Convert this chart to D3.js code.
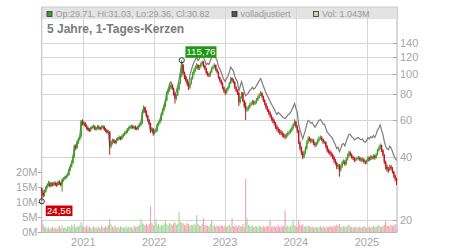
<!DOCTYPE html>
<html><head><meta charset="utf-8">
<script src="https://cdn.jsdelivr.net/npm/d3@7"></script>
<style>body{margin:0;background:#fff;} svg{display:block;font-family:"Liberation Sans",Arial,sans-serif;}</style>
</head><body><svg id="c" width="450" height="250"></svg>
<script>
// ---- data ----
const startDate = "2020-06-01";   // first weekly candle
const firstOpen = 28.4;
const closes = [
27.0,26.2,27.3,28.6,29.2,30.0,29.1,29.8,29.4,30.0,
29.6,29.4,30.3,30.0,29.5,31.0,31.5,31.8,32.4,32.8,
34.7,36.0,37.5,40.0,45.0,44.2,47.0,48.5,50.0,59.0,
57.5,58.0,56.5,55.0,54.2,53.5,54.8,55.5,56.0,54.5,
54.5,55.8,55.0,54.6,55.5,55.9,54.2,53.5,52.5,52.8,
45.0,46.5,48.0,47.5,47.0,48.2,49.0,49.5,48.8,50.0,
51.0,52.0,52.5,54.0,55.0,55.5,56.0,55.2,55.5,54.8,
54.5,56.0,57.0,58.0,65.5,69.0,66.0,63.0,60.0,58.0,
53.5,54.5,52.0,53.0,53.5,57.0,58.5,60.0,64.0,67.0,
70.0,74.6,81.0,83.5,86.0,88.0,85.0,80.0,76.0,79.0,
84.0,90.0,98.0,110.0,101.0,96.0,93.0,89.0,86.0,90.0,
95.0,100.0,104.0,107.0,110.0,106.0,108.0,111.0,114.0,109.0,
106.0,101.0,99.0,98.0,102.0,106.0,108.0,110.0,105.0,102.0,
96.0,93.0,90.0,86.0,83.0,81.0,84.0,86.0,90.0,95.0,
93.0,91.0,86.0,83.0,81.0,73.0,77.0,81.0,74.0,70.0,
67.0,68.0,69.0,71.0,72.0,73.5,72.0,73.0,75.0,77.0,
79.0,81.0,78.0,74.6,72.0,69.0,67.0,65.0,63.0,61.0,
59.5,58.0,56.0,54.5,53.5,52.7,52.0,51.0,50.5,50.0,
50.8,52.0,52.5,53.5,55.0,57.0,59.0,56.0,53.5,47.0,
44.0,42.0,40.0,42.0,44.0,47.0,49.0,48.5,47.5,48.0,
46.5,45.5,46.5,48.0,49.0,49.5,48.5,47.0,47.0,45.0,
43.0,42.5,41.5,41.0,40.0,38.6,37.5,35.9,36.5,34.7,
36.0,37.6,38.0,37.0,39.0,40.5,42.0,41.0,40.0,39.5,
38.6,39.0,39.5,39.6,39.0,38.6,39.0,38.0,37.6,38.2,
39.6,39.0,40.0,39.5,40.5,39.6,41.0,43.0,44.0,45.5,
43.0,41.0,38.0,36.0,35.0,34.7,36.0,35.3,34.0,32.6,
31.5,30.82];
const highs = [
28.6,27.8,27.9,29.0,29.9,30.8,30.5,30.4,30.3,30.6,
30.5,30.2,30.9,30.9,30.4,31.6,32.0,32.5,33.0,33.5,
35.2,36.8,38.4,40.8,45.8,46.0,47.8,49.5,51.0,60.0,
60.5,59.5,58.8,57.2,56.0,55.0,55.8,56.6,57.2,56.6,
55.6,56.8,56.6,55.8,56.6,57.0,56.4,55.0,54.2,53.8,
53.0,47.5,49.0,48.8,48.4,49.2,50.0,50.6,50.2,51.0,
52.0,53.0,53.6,55.0,56.0,56.8,57.2,56.8,56.6,56.4,
55.8,57.0,58.2,59.5,66.5,70.5,69.5,66.8,63.6,60.8,
58.4,55.6,55.0,54.0,54.8,58.0,59.6,61.4,65.0,68.4,
71.6,76.0,82.5,85.5,88.0,90.0,89.0,85.6,80.5,80.2,
85.5,91.5,100.0,115.76,111.0,102.0,97.5,94.0,90.0,91.5,
96.5,102.0,106.0,109.5,112.5,111.0,110.0,113.0,115.5,114.5,
110.0,107.0,102.5,100.5,103.5,107.5,110.0,112.0,110.5,106.0,
102.5,97.0,94.0,91.0,87.0,84.0,85.5,87.5,91.5,96.5,
96.0,94.5,92.0,87.0,84.0,82.0,78.0,82.0,81.5,75.0,
73.0,69.5,70.5,72.5,73.5,75.0,74.5,74.5,76.5,78.5,
80.5,82.5,81.5,78.5,75.5,72.5,70.0,67.8,66.0,63.8,
62.0,60.5,58.8,57.0,55.5,54.5,53.8,53.0,52.0,51.6,
51.8,53.0,53.6,54.6,56.2,58.2,60.5,59.5,56.8,54.0,
47.8,45.0,42.8,43.0,45.0,48.0,50.2,50.0,49.2,49.0,
48.8,47.2,47.4,49.0,50.2,50.6,50.2,49.0,48.0,47.6,
45.6,43.8,43.2,42.4,41.6,40.6,39.2,38.0,37.2,37.0,
36.8,38.4,38.9,38.6,39.8,41.4,42.9,42.6,41.6,40.6,
40.0,39.8,40.2,40.4,40.2,39.6,39.8,39.4,38.6,39.0,
40.4,40.2,40.8,40.6,41.2,41.0,41.8,43.8,45.0,46.4,
45.8,43.6,41.4,38.4,36.8,35.8,36.8,36.6,35.8,34.4,
33.0,31.8];
const lows = [
24.56,25.6,25.9,27.0,28.2,28.9,28.6,28.8,28.9,29.0,
29.1,28.8,29.1,29.4,28.9,27.3,30.5,31.0,31.4,32.0,
32.5,34.2,35.6,37.0,39.6,43.0,43.8,46.2,47.8,49.5,
56.5,56.4,55.6,54.0,53.2,52.6,52.8,54.0,54.8,53.6,
53.4,54.0,54.0,53.6,54.0,54.8,53.4,52.6,51.6,51.5,
41.0,44.0,45.8,46.5,46.0,46.4,47.6,48.2,48.0,48.2,
49.4,50.4,51.2,52.0,53.2,54.2,54.6,54.2,54.2,53.8,
53.6,53.8,55.2,56.2,57.5,64.5,65.0,62.0,59.0,56.8,
52.0,52.6,50.5,51.0,52.0,52.8,56.0,57.6,59.2,63.0,
66.0,69.0,73.6,79.5,82.0,84.5,83.5,78.5,72.0,74.5,
78.0,83.0,89.0,96.0,99.0,94.0,91.0,87.0,83.5,84.5,
88.5,93.5,98.0,102.0,105.0,104.0,104.0,106.0,109.0,107.0,
104.0,99.0,97.0,96.0,96.5,100.5,104.5,106.0,103.0,100.0,
94.5,91.0,88.0,84.5,81.0,79.0,80.0,82.5,85.0,89.0,
91.0,89.5,84.5,81.5,79.0,70.0,72.0,76.0,73.0,68.5,
60.0,65.5,66.5,68.0,70.0,71.0,70.5,71.0,72.0,74.0,
76.0,78.0,76.5,73.0,70.5,67.5,65.5,63.5,61.5,59.5,
58.0,56.5,54.5,53.0,52.0,51.2,50.8,49.8,49.2,48.6,
49.0,50.0,51.0,51.8,52.8,54.2,56.2,55.0,52.0,46.0,
43.0,40.8,39.0,39.4,41.2,43.2,46.2,47.5,46.5,46.6,
45.6,44.5,44.8,45.8,47.2,48.2,47.6,46.2,46.0,44.0,
42.0,41.5,40.6,40.0,39.0,37.6,36.6,35.0,35.0,32.2,
34.0,35.4,37.0,36.2,36.6,38.4,39.8,40.2,39.2,38.6,
37.8,38.0,38.4,38.8,38.2,37.8,38.0,37.2,36.8,37.0,
37.8,38.2,38.6,38.8,39.0,38.8,39.2,40.6,42.4,43.4,
42.2,40.2,37.0,34.8,34.0,33.6,34.2,34.6,33.4,31.8,
30.6,29.36];
const volumes = [ // millions
4.0,2.5,1.8,1.5,1.2,1.6,1.0,1.3,1.8,1.1,
1.4,1.0,1.5,2.0,1.2,2.2,1.3,1.6,1.2,1.8,
2.0,1.5,2.4,1.8,2.6,1.5,2.0,1.7,2.2,3.3,
2.0,1.6,1.4,2.2,1.3,1.8,1.5,1.2,2.0,1.4,
1.6,1.3,1.8,1.2,2.1,1.5,1.4,1.9,1.6,2.4,
4.3,2.5,1.8,1.6,2.2,1.4,1.7,1.3,1.9,1.5,
1.6,1.4,2.0,1.3,1.8,1.5,1.7,1.2,2.2,1.6,
1.8,2.0,2.4,4.2,3.0,2.5,2.2,2.8,2.0,2.6,
8.6,3.0,2.4,2.0,4.3,2.2,2.6,1.8,2.4,2.2,
2.8,4.0,2.5,2.2,3.0,2.6,2.2,2.8,3.2,2.4,
2.6,6.6,3.4,3.0,2.8,2.4,2.2,3.0,2.6,2.0,
2.4,2.2,2.8,2.4,5.6,2.6,2.2,2.0,2.8,4.6,
2.4,2.2,2.0,1.8,2.6,4.0,2.0,2.4,1.8,2.2,
2.0,1.8,2.4,2.0,1.6,2.2,1.8,2.0,2.4,1.8,
4.6,2.0,1.8,2.4,1.6,2.2,2.0,1.8,2.6,1.6,
17.6,4.6,2.4,2.0,1.8,2.2,1.6,2.0,1.8,1.6,
2.2,1.8,1.6,2.0,1.8,1.6,2.2,1.8,4.0,1.6,
1.8,2.0,1.6,1.8,2.4,1.6,1.8,1.8,2.0,7.0,
1.8,2.2,1.6,2.0,2.4,4.0,2.2,2.0,1.8,4.0,
2.4,2.0,2.6,1.8,2.0,1.6,2.2,1.8,1.6,2.0,
1.4,1.6,1.8,1.4,1.6,2.0,1.4,1.8,1.6,1.4,
1.8,1.6,2.0,1.8,1.6,2.2,1.8,2.4,2.0,2.6,
1.8,1.6,2.0,1.8,1.6,2.2,2.4,1.8,1.6,1.4,
1.6,1.8,1.4,1.6,1.8,1.4,1.6,2.0,1.6,1.4,
1.6,1.8,1.4,1.6,2.2,1.6,1.8,2.0,2.4,1.8,
1.6,2.0,2.4,3.7,2.2,2.0,1.8,2.4,2.0,2.2,
2.6,1.04];
const divDates   = ["2022-03-15","2022-07-01","2022-10-01","2023-04-01","2023-10-01","2024-10-01"];
const divFactors = [1.04, 1.09, 1.13, 1.17, 1.22, 1.25];
const priceTicks = [20,40,60,80,100,120,140];
const volTicks = [0,5,10,15,20];
const yearTicks = ["2021","2022","2023","2024","2025"];
const hiLabel = "115,76", loLabel = "24,56";
const legendOHLC = "Op:29.71, Hi:31.03, Lo:29.36, Cl:30.82";
const legendAdj = "volladjustiert";
const legendVol = "Vol: 1.043M";
const title = "5 Jahre, 1-Tages-Kerzen";

// ---- setup ----
const svg = d3.select("#c");
const L = 41.75, R = 397, T = 7, B = 232.5;
const parse = d3.timeParse("%Y-%m-%d");
const d0 = parse(startDate);
const dates = closes.map((_, i) => d3.timeDay.offset(d0, 7 * i));
const x = d3.scaleTime().domain([parse("2020-06-01"), parse("2025-06-04")]).range([L, 396.9]);
const y = d3.scaleLog().domain([20, 140]).range([220, 43]);
const yv = d3.scaleLinear().domain([0, 20]).range([B - 0.5, 171.7]);
const GREEN = "#3e9e2c", RED = "#c3151d";

const divD = divDates.map(parse);
function factor(d) { let f = 1; divD.forEach((dd, k) => { if (d >= dd) f = divFactors[k]; }); return f; }

const candles = closes.map((c, i) => {
  const o = i === 0 ? firstOpen : closes[i - 1];
  return { d: dates[i], o, c, h: highs[i], l: lows[i], v: volumes[i], up: c >= o };
});
const hiIdx = d3.maxIndex(highs), loIdx = d3.minIndex(lows);

// header band
svg.append("rect").attr("x", L).attr("y", T).attr("width", 397.7 - L).attr("height", 12).attr("fill", "#e3e3e3");
// gridlines
const years = yearTicks.map(s => parse(s + "-01-01"));
svg.append("g").selectAll("line").data(years).join("line")
  .attr("x1", d => Math.round(x(d)) + 0.5).attr("x2", d => Math.round(x(d)) + 0.5)
  .attr("y1", T).attr("y2", B).attr("stroke", "#d6d6d6");
svg.append("g").selectAll("line").data(priceTicks).join("line")
  .attr("x1", L).attr("x2", R).attr("y1", d => Math.round(y(d)) + 0.5).attr("y2", d => Math.round(y(d)) + 0.5)
  .attr("stroke", "#d6d6d6");
// frame
svg.append("line").attr("x1", L).attr("x2", 397.7).attr("y1", T).attr("y2", T).attr("stroke", "#ccc");
svg.append("line").attr("x1", 397.7).attr("x2", 397.7).attr("y1", T).attr("y2", 19).attr("stroke", "#ccc");
svg.append("line").attr("x1", L).attr("x2", L).attr("y1", T).attr("y2", B).attr("stroke", "#b8b8b8");
svg.append("line").attr("x1", R).attr("x2", R).attr("y1", 19).attr("y2", B).attr("stroke", "#b0b0b0");
svg.append("line").attr("x1", L).attr("x2", R).attr("y1", B).attr("y2", B).attr("stroke", "#b8b8b8");

// volume bars
svg.append("g").selectAll("rect").data(candles).join("rect")
  .attr("x", d => x(d.d) - 0.6).attr("width", 1.2)
  .attr("y", d => yv(d.v)).attr("height", d => yv(0) - yv(d.v))
  .attr("fill", d => d.up ? "#aad9a2" : "#f1a7b1");

// adjusted line
const adjLine = d3.line().x(d => x(d.d)).y(d => y(d.c * factor(d.d)));
svg.append("path").datum(candles).attr("d", adjLine).attr("fill", "none").attr("stroke", "#7c7c7c").attr("stroke-width", 1.2);

// candles
const cg = svg.append("g");
cg.selectAll("line").data(candles).join("line")
  .attr("x1", d => x(d.d)).attr("x2", d => x(d.d))
  .attr("y1", d => y(d.h)).attr("y2", d => y(d.l))
  .attr("stroke", d => d.up ? GREEN : RED).attr("stroke-width", 1);
cg.selectAll("rect").data(candles).join("rect")
  .attr("x", d => x(d.d) - 0.7).attr("width", 1.4)
  .attr("y", d => y(Math.max(d.o, d.c)))
  .attr("height", d => Math.max(1, Math.abs(y(d.o) - y(d.c))))
  .attr("fill", d => d.up ? GREEN : RED);

// right price axis
const ra = svg.append("g");
priceTicks.forEach(p => {
  const yy = Math.round(y(p)) + 0.5;
  ra.append("line").attr("x1", R - 4).attr("x2", R).attr("y1", yy).attr("y2", yy).attr("stroke", "#aaa");
  ra.append("text").attr("x", 400).attr("y", yy).attr("dy", "0.36em").attr("font-size", 11).attr("fill", "#a6a6a6").text(p);
});
// left volume axis
volTicks.forEach(v => {
  const yy = Math.round(yv(v)) + 0.5;
  ra.append("line").attr("x1", L - 4).attr("x2", L).attr("y1", yy).attr("y2", yy).attr("stroke", "#aaa");
  ra.append("text").attr("x", 37.5).attr("y", yy).attr("dy", "0.36em").attr("text-anchor", "end").attr("font-size", 11).attr("fill", "#a6a6a6").text(v + "M");
});
// bottom year labels
years.forEach((d, k) => {
  ra.append("text").attr("x", x(d)).attr("y", 245.5).attr("text-anchor", "middle").attr("font-size", 11).attr("fill", "#a6a6a6").text(yearTicks[k]);
});

// legend
function legendItem(xx, fill, txt) {
  svg.append("rect").attr("x", xx + 0.5).attr("y", 11.5).attr("width", 5).attr("height", 5).attr("fill", fill).attr("stroke", "#333").attr("stroke-width", 0.8);
  svg.append("text").attr("x", xx + 9).attr("y", 17).attr("font-size", 9).attr("fill", "#9a9a9a").text(txt);
}
legendItem(46.5, GREEN, legendOHLC);
legendItem(231.5, "#555", legendAdj);
legendItem(313, "#b5e0ad", legendVol);
svg.append("text").attr("x", 47).attr("y", 33.3).attr("font-size", 12).attr("font-weight", "bold").attr("fill", "#7a7a7a").text(title);

// hi / lo markers
const hiC = candles[hiIdx], loC = candles[loIdx];
const hx = x(hiC.d), hy = y(hiC.h), lx = x(loC.d), ly = y(loC.l);
svg.append("rect").attr("x", hx + 3.7).attr("y", hy - 14).attr("width", 31).attr("height", 11.5).attr("fill", "#1f9a10");
svg.append("text").attr("x", hx + 19.2).attr("y", hy - 4.8).attr("text-anchor", "middle").attr("font-size", 9.8).attr("fill", "#fff").text(hiLabel);
svg.append("circle").attr("cx", hx).attr("cy", hy).attr("r", 2.6).attr("fill", "none").attr("stroke", "#222").attr("stroke-width", 0.9);
svg.append("rect").attr("x", lx + 4).attr("y", ly + 4.2).attr("width", 26.7).attr("height", 10.5).attr("fill", "#cc0000");
svg.append("text").attr("x", lx + 17.3).attr("y", ly + 12.8).attr("text-anchor", "middle").attr("font-size", 9.6).attr("fill", "#fff").text(loLabel);
svg.append("circle").attr("cx", lx).attr("cy", ly).attr("r", 2.6).attr("fill", "none").attr("stroke", "#222").attr("stroke-width", 0.9);
</script></body></html>
